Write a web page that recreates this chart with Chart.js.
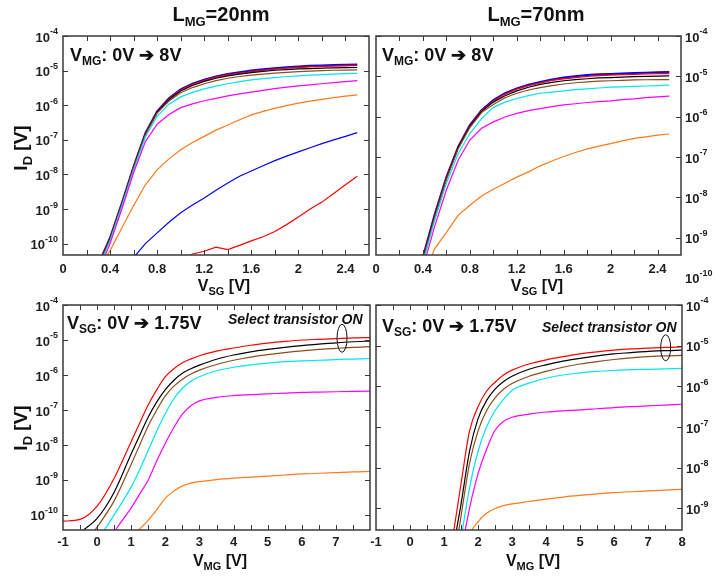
<!DOCTYPE html>
<html><head><meta charset="utf-8">
<script src="https://cdn.jsdelivr.net/npm/chart.js@4.4.1/dist/chart.umd.min.js"></script>
<style>
html,body{margin:0;padding:0;background:#fff;}
#wrap{position:relative;width:715px;height:578px;overflow:hidden;font-family:'Liberation Sans',Arial,Helvetica,sans-serif;color:#111;}
canvas{position:absolute;left:0;top:0;}
.t{position:absolute;font-weight:bold;line-height:1;white-space:nowrap;z-index:5;}
.s{position:relative;}
</style></head><body><div id="wrap">
<canvas id="cTL" width="715" height="578"></canvas>
<canvas id="cTR" width="715" height="578"></canvas>
<canvas id="cBL" width="715" height="578"></canvas>
<canvas id="cBR" width="715" height="578"></canvas>

<div class="t" style="left:221px;top:4px;font-size:20px;transform:translateX(-50%)">L<span class="s" style="font-size:13px;top:5px">MG</span>=20nm</div>
<div class="t" style="left:536px;top:4px;font-size:20px;transform:translateX(-50%)">L<span class="s" style="font-size:13px;top:5px">MG</span>=70nm</div>

<div class="t" style="left:20px;top:148px;font-size:19px;transform:translate(-50%,-50%) rotate(-90deg)">I<span class="s" style="font-size:13px;top:5px">D</span> [V]</div>
<div class="t" style="left:20px;top:428px;font-size:19px;transform:translate(-50%,-50%) rotate(-90deg)">I<span class="s" style="font-size:13px;top:5px">D</span> [V]</div>

<div class="t" style="left:224px;top:278px;font-size:16px;transform:translateX(-50%)">V<span class="s" style="font-size:11px;top:4px">SG</span> [V]</div>
<div class="t" style="left:537px;top:278px;font-size:16px;transform:translateX(-50%)">V<span class="s" style="font-size:11px;top:4px">SG</span> [V]</div>
<div class="t" style="left:220px;top:553px;font-size:16px;transform:translateX(-50%)">V<span class="s" style="font-size:11px;top:4px">MG</span> [V]</div>
<div class="t" style="left:533px;top:553px;font-size:16px;transform:translateX(-50%)">V<span class="s" style="font-size:11px;top:4px">MG</span> [V]</div>

<div class="t" style="left:70px;top:46px;font-size:18px">V<span class="s" style="font-size:12px;top:4px">MG</span>: 0V ➔ 8V</div>
<div class="t" style="left:382px;top:46px;font-size:18px">V<span class="s" style="font-size:12px;top:4px">MG</span>: 0V ➔ 8V</div>
<div class="t" style="left:67px;top:314px;font-size:18px">V<span class="s" style="font-size:12px;top:4px">SG</span>: 0V ➔ 1.75V</div>
<div class="t" style="left:382px;top:317px;font-size:18px">V<span class="s" style="font-size:12px;top:4px">SG</span>: 0V ➔ 1.75V</div>
<div class="t" style="left:228px;top:312px;font-size:14px;font-style:italic">Select transistor ON</div>
<div class="t" style="left:542px;top:320px;font-size:14px;font-style:italic">Select transistor ON</div>
</div>
<script>
const FONT = "'Liberation Sans', Arial, Helvetica, sans-serif";
const RED = '#ff0000', BLUE = '#0000ff', ORANGE = '#ff7a1a', MAGENTA = '#ff00ff',
      CYAN = '#00e5ee', BROWN = '#8b4c1e', BLACK = '#000000';

// ---------- tick labels ----------
const xLabelsTop = ['0', '0.4', '0.8', '1.2', '1.6', '2', '2.4'];
const xLabelsBL = ['-1', '0', '1', '2', '3', '4', '5', '6', '7'];
const xLabelsBR = ['-1', '0', '1', '2', '3', '4', '5', '6', '7', '8'];
const yExpTL = [-4, -5, -6, -7, -8, -9, -10];
const yExpTR = [-4, -5, -6, -7, -8, -9, -10];
const yExpBL = [-4, -5, -6, -7, -8, -9, -10];
const yExpBR = [-4, -5, -6, -7, -8, -9];

// ---------- top panels: I_D vs V_SG (values are log10 of I_D) ----------
const vSG = [0.3, 0.4, 0.5, 0.6, 0.7, 0.8, 0.9, 1.0, 1.1, 1.2, 1.3, 1.4, 1.5, 1.6, 1.7, 1.8, 1.9, 2.0, 2.1, 2.2, 2.3, 2.4, 2.5];

// L_MG = 20nm, V_MG = 0V ... 8V
const tl_VMG0 = [null, null, null, null, null, null, null, -10.5, -10.3, -10.22, -10.1, -10.17, -10.05, -9.92, -9.8, -9.65, -9.45, -9.23, -9.0, -8.8, -8.55, -8.3, -8.05];
const tl_VMG1 = [null, null, null, -10.4, -10.0, -9.69, -9.38, -9.11, -8.88, -8.68, -8.46, -8.25, -8.05, -7.9, -7.75, -7.6, -7.47, -7.35, -7.23, -7.11, -7.0, -6.9, -6.79];
const tl_VMG2 = [-10.7, -10.2, -9.55, -8.9, -8.3, -7.87, -7.55, -7.29, -7.08, -6.9, -6.72, -6.57, -6.42, -6.28, -6.18, -6.09, -6.01, -5.94, -5.88, -5.83, -5.78, -5.74, -5.70];
const tl_VMG3 = [-10.8, -10.0, -9.0, -7.95, -7.05, -6.55, -6.27, -6.07, -5.96, -5.87, -5.8, -5.73, -5.67, -5.62, -5.57, -5.52, -5.48, -5.44, -5.41, -5.38, -5.35, -5.32, -5.29];
const tl_VMG4 = [-10.7, -9.92, -8.92, -7.87, -6.92, -6.32, -5.97, -5.76, -5.63, -5.53, -5.45, -5.38, -5.32, -5.27, -5.23, -5.2, -5.17, -5.15, -5.13, -5.115, -5.1, -5.09, -5.08];
const tl_VMG5 = [-10.65, -9.88, -8.87, -7.81, -6.85, -6.23, -5.88, -5.64, -5.49, -5.38, -5.29, -5.22, -5.17, -5.13, -5.1, -5.07, -5.05, -5.03, -5.015, -5.0, -4.99, -4.985, -4.98];
const tl_VMG6 = [-10.62, -9.86, -8.85, -7.79, -6.83, -6.2, -5.84, -5.59, -5.43, -5.31, -5.22, -5.15, -5.1, -5.06, -5.02, -4.99, -4.97, -4.95, -4.94, -4.93, -4.92, -4.915, -4.91];
const tl_VMG7 = [-10.6, -9.84, -8.84, -7.78, -6.82, -6.19, -5.82, -5.56, -5.4, -5.28, -5.19, -5.12, -5.07, -5.03, -4.99, -4.96, -4.93, -4.91, -4.89, -4.88, -4.87, -4.86, -4.85];
const tl_VMG8 = [-10.6, -9.83, -8.83, -7.77, -6.81, -6.18, -5.8, -5.54, -5.38, -5.26, -5.17, -5.1, -5.05, -5.0, -4.96, -4.93, -4.9, -4.88, -4.86, -4.85, -4.84, -4.83, -4.82];

// L_MG = 70nm, V_MG = 2V ... 8V (lower V_MG curves stay below the axis)
const tr_VMG2 = [null, -10.0, -9.28, -8.87, -8.45, -8.2, -7.97, -7.8, -7.65, -7.5, -7.37, -7.22, -7.1, -6.99, -6.89, -6.8, -6.73, -6.67, -6.6, -6.54, -6.5, -6.46, -6.43];
const tr_VMG3 = [-10.9, -9.75, -8.72, -7.82, -7.08, -6.58, -6.29, -6.13, -6.01, -5.92, -5.85, -5.8, -5.75, -5.71, -5.68, -5.65, -5.63, -5.61, -5.58, -5.56, -5.53, -5.51, -5.49];
const tr_VMG4 = [-10.8, -9.62, -8.58, -7.65, -6.92, -6.42, -6.05, -5.77, -5.64, -5.55, -5.48, -5.42, -5.39, -5.36, -5.33, -5.31, -5.29, -5.27, -5.26, -5.25, -5.24, -5.23, -5.22];
const tr_VMG5 = [-10.7, -9.55, -8.5, -7.56, -6.8, -6.27, -5.9, -5.7, -5.53, -5.42, -5.34, -5.28, -5.23, -5.19, -5.16, -5.14, -5.12, -5.11, -5.1, -5.09, -5.085, -5.08, -5.08];
const tr_VMG6 = [-10.65, -9.52, -8.47, -7.53, -6.77, -6.24, -5.87, -5.64, -5.48, -5.36, -5.27, -5.2, -5.15, -5.11, -5.08, -5.06, -5.04, -5.03, -5.02, -5.01, -5.0, -4.995, -4.99];
const tr_VMG7 = [-10.62, -9.5, -8.45, -7.51, -6.76, -6.22, -5.85, -5.61, -5.44, -5.32, -5.23, -5.16, -5.1, -5.06, -5.03, -5.0, -4.98, -4.97, -4.96, -4.95, -4.94, -4.935, -4.93];
const tr_VMG8 = [-10.6, -9.48, -8.43, -7.5, -6.75, -6.21, -5.84, -5.59, -5.42, -5.3, -5.21, -5.14, -5.08, -5.03, -5.0, -4.97, -4.95, -4.94, -4.93, -4.92, -4.91, -4.9, -4.89];

// ---------- bottom panels: I_D vs V_MG (log10 of I_D), V_SG from 0V to 1.75V ----------
const vMG = [-1, -0.5, 0, 0.5, 1, 1.25, 1.5, 1.75, 2, 2.25, 2.5, 2.75, 3, 3.5, 4, 4.5, 5, 5.5, 6, 6.5, 7, 7.5, 8];

// L_MG = 20nm
const bl_orange  = [null, null, null, null, -10.55, -10.4, -10.15, -9.85, -9.52, -9.32, -9.17, -9.09, -9.05, -8.99, -8.95, -8.92, -8.89, -8.86, -8.83, -8.81, -8.79, -8.77, -8.76];
const bl_magenta = [null, null, -11.5, -10.5, -9.8, -9.4, -9.0, -8.45, -7.95, -7.5, -7.12, -6.88, -6.74, -6.64, -6.59, -6.56, -6.54, -6.52, -6.5, -6.49, -6.48, -6.47, -6.46];
const bl_cyan    = [null, null, -10.75, -10.0, -9.2, -8.7, -8.15, -7.6, -7.1, -6.68, -6.38, -6.18, -6.05, -5.88, -5.78, -5.71, -5.66, -5.62, -5.6, -5.58, -5.56, -5.545, -5.53];
const bl_brown   = [null, -11.0, -10.35, -9.6, -8.55, -8.0, -7.45, -7.0, -6.6, -6.32, -6.12, -5.97, -5.86, -5.7, -5.58, -5.49, -5.42, -5.36, -5.31, -5.27, -5.24, -5.21, -5.19];
const bl_black   = [null, -10.5, -10.1, -9.35, -8.25, -7.72, -7.2, -6.77, -6.42, -6.15, -5.95, -5.82, -5.72, -5.55, -5.43, -5.34, -5.27, -5.21, -5.16, -5.12, -5.08, -5.05, -5.03];
const bl_red     = [-10.18, -10.13, -9.75, -8.95, -7.9, -7.37, -6.85, -6.42, -6.05, -5.82, -5.65, -5.54, -5.45, -5.32, -5.23, -5.15, -5.09, -5.04, -5.0, -4.98, -4.96, -4.94, -4.93];

// L_MG = 70nm
const br_orange  = [null, null, null, null, null, null, -10.4, -9.65, -9.33, -9.12, -9.0, -8.93, -8.89, -8.83, -8.77, -8.72, -8.68, -8.64, -8.61, -8.59, -8.57, -8.55, -8.53];
const br_magenta = [null, null, null, null, null, -11.3, -10.1, -9.0, -8.15, -7.55, -7.08, -6.86, -6.76, -6.68, -6.63, -6.6, -6.58, -6.55, -6.52, -6.5, -6.48, -6.46, -6.44];
const br_cyan    = [null, null, null, null, null, -11.0, -9.75, -8.5, -7.6, -7.0, -6.6, -6.32, -6.1, -5.92, -5.8, -5.72, -5.67, -5.63, -5.61, -5.59, -5.58, -5.57, -5.56];
const br_brown   = [null, null, null, null, -11.8, -10.5, -9.2, -7.9, -7.1, -6.6, -6.28, -6.07, -5.93, -5.75, -5.63, -5.53, -5.45, -5.39, -5.34, -5.3, -5.27, -5.25, -5.24];
const br_black   = [null, null, null, null, -11.5, -10.1, -8.9, -7.6, -6.8, -6.35, -6.07, -5.88, -5.75, -5.58, -5.47, -5.38, -5.31, -5.25, -5.2, -5.17, -5.14, -5.12, -5.11];
const br_red     = [null, null, null, null, -11.0, -9.75, -8.4, -7.1, -6.5, -6.12, -5.9, -5.72, -5.6, -5.45, -5.35, -5.27, -5.2, -5.15, -5.11, -5.08, -5.06, -5.04, -5.03];

// ---------- helpers ----------
function series(xs, logs, color, width, smooth) {
  const pts = [];
  xs.forEach((x, i) => { if (logs[i] !== null) pts.push({ x: x, y: Math.pow(10, logs[i]) }); });
  return {
    data: pts, borderColor: color, borderWidth: width, pointRadius: 0, fill: false,
    tension: smooth ? 0.4 : 0, cubicInterpolationMode: smooth ? 'monotone' : 'default'
  };
}

const axisFramePlugin = {
  id: 'axisFrame',
  afterDatasetsDraw(chart, args, o) {
    const ctx = chart.ctx, a = chart.chartArea;
    const xs = chart.scales.x, ys = chart.scales.y;
    ctx.save();
    ctx.strokeStyle = '#3a3a3a';
    ctx.lineWidth = 1;
    ctx.beginPath();
    xs.ticks.forEach(t => {
      const px = Math.round(xs.getPixelForValue(t.value)) + 0.5;
      if (px < a.left + 1 || px > a.right - 1) return;
      ctx.moveTo(px, a.bottom); ctx.lineTo(px, a.bottom - 5);
      ctx.moveTo(px, a.top); ctx.lineTo(px, a.top + 5);
    });
    o.decades.forEach(e => {
      const v = Math.pow(10, e);
      if (v < ys.min * 0.999 || v > ys.max * 1.001) return;
      const py = Math.round(ys.getPixelForValue(v)) + 0.5;
      ctx.moveTo(a.left, py); ctx.lineTo(a.left + 5, py);
      ctx.moveTo(a.right, py); ctx.lineTo(a.right - 5, py);
    });
    ctx.stroke();
    ctx.lineWidth = 1.5;
    ctx.strokeRect(a.left, a.top, a.right - a.left, a.bottom - a.top);

    ctx.fillStyle = '#1e1e1e';
    ctx.textBaseline = 'middle';
    ctx.textAlign = 'left';
    o.decades.forEach(e => {
      const py = ys.getPixelForValue(Math.pow(10, e));
      const exp = String(e);
      ctx.font = 'bold 13px ' + FONT;
      const wb = ctx.measureText('10').width;
      ctx.font = 'bold 9px ' + FONT;
      const we = ctx.measureText(exp).width;
      const x0 = o.side === 'left' ? a.left - 5 - wb - we : a.right + 4;
      ctx.font = 'bold 13px ' + FONT;
      ctx.fillText('10', x0, py + 2);
      ctx.font = 'bold 9px ' + FONT;
      ctx.fillText(exp, x0 + wb, py - 4);
    });
    if (o.ellipse) {
      const cx = xs.getPixelForValue(o.ellipse.x), cy = ys.getPixelForValue(o.ellipse.y);
      ctx.lineWidth = 1; ctx.strokeStyle = '#111';
      ctx.beginPath();
      ctx.ellipse(cx, cy, o.ellipse.rx, o.ellipse.ry, 0, 0, Math.PI * 2);
      ctx.stroke();
    }
    ctx.restore();
  }
};

function makeChart(id, cfg) {
  return new Chart(document.getElementById(id), {
    type: 'line',
    data: { datasets: cfg.datasets },
    options: {
      responsive: false, animation: false, devicePixelRatio: 1, events: [],
      layout: { autoPadding: false, padding: cfg.padding },
      plugins: { legend: { display: false }, tooltip: { enabled: false }, axisFrame: cfg.frame },
      scales: {
        x: {
          type: 'linear', min: cfg.xMin, max: cfg.xMax,
          afterFit(s) { s.height = 30; },
          grid: { display: false, drawTicks: false }, border: { display: false },
          ticks: {
            stepSize: cfg.xStep, autoSkip: false, maxRotation: 0, minRotation: 0,
            padding: cfg.xPad, color: '#1e1e1e', font: { family: FONT, weight: 'bold', size: 13 },
            callback: v => { const s = String(Math.round(v * 10) / 10); return cfg.xLabels.includes(s) ? s : ''; }
          }
        },
        y: { type: 'logarithmic', display: false, min: cfg.yMin, max: cfg.yMax }
      }
    },
    plugins: [axisFramePlugin]
  });
}

makeChart('cTL', {
  padding: { left: 63, top: 36, right: 346, bottom: 293 },
  xMin: 0, xMax: 2.6, xStep: 0.2, xPad: 7, xLabels: xLabelsTop,
  yMin: 4.7e-11, yMax: 1e-4,
  frame: { side: 'left', decades: yExpTL },
  datasets: [
    series(vSG, tl_VMG0, RED, 1.2), series(vSG, tl_VMG1, BLUE, 1.2), series(vSG, tl_VMG2, ORANGE, 1.2),
    series(vSG, tl_VMG3, MAGENTA, 1.2), series(vSG, tl_VMG4, CYAN, 1.2), series(vSG, tl_VMG5, BROWN, 1.2),
    series(vSG, tl_VMG6, BLACK, 1.2), series(vSG, tl_VMG7, RED, 1.3), series(vSG, tl_VMG8, BLUE, 2)
  ]
});

makeChart('cTR', {
  padding: { left: 376, top: 36, right: 34, bottom: 293 },
  xMin: 0, xMax: 2.6, xStep: 0.2, xPad: 7, xLabels: xLabelsTop,
  yMin: 3.7e-10, yMax: 1e-4,
  frame: { side: 'right', decades: yExpTR },
  datasets: [
    series(vSG, tr_VMG2, ORANGE, 1.2), series(vSG, tr_VMG3, MAGENTA, 1.2), series(vSG, tr_VMG4, CYAN, 1.2),
    series(vSG, tr_VMG5, BROWN, 1.2), series(vSG, tr_VMG6, BLACK, 1.2), series(vSG, tr_VMG7, RED, 1.3),
    series(vSG, tr_VMG8, BLUE, 2)
  ]
});

makeChart('cBL', {
  padding: { left: 63, top: 305, right: 345, bottom: 18 },
  xMin: -1, xMax: 8, xStep: 0.5, xPad: 5, xLabels: xLabelsBL,
  yMin: 3.7e-11, yMax: 1e-4,
  frame: { side: 'left', decades: yExpBL, ellipse: { x: 7.18, y: 1.12e-5, rx: 5, ry: 14 } },
  datasets: [
    series(vMG, bl_orange, ORANGE, 1.2, true), series(vMG, bl_magenta, MAGENTA, 1.2, true),
    series(vMG, bl_cyan, CYAN, 1.2, true), series(vMG, bl_brown, BROWN, 1.2, true),
    series(vMG, bl_black, BLACK, 1.2, true), series(vMG, bl_red, RED, 1.2, true)
  ]
});

makeChart('cBR', {
  padding: { left: 376, top: 305, right: 33, bottom: 18 },
  xMin: -1, xMax: 8, xStep: 0.5, xPad: 5, xLabels: xLabelsBR,
  yMin: 2.95e-10, yMax: 1e-4,
  frame: { side: 'right', decades: yExpBR, ellipse: { x: 7.52, y: 8.9e-6, rx: 5, ry: 13 } },
  datasets: [
    series(vMG, br_orange, ORANGE, 1.2, true), series(vMG, br_magenta, MAGENTA, 1.2, true),
    series(vMG, br_cyan, CYAN, 1.2, true), series(vMG, br_brown, BROWN, 1.2, true),
    series(vMG, br_black, BLACK, 1.2, true), series(vMG, br_red, RED, 1.2, true)
  ]
});
</script>
</body></html>
